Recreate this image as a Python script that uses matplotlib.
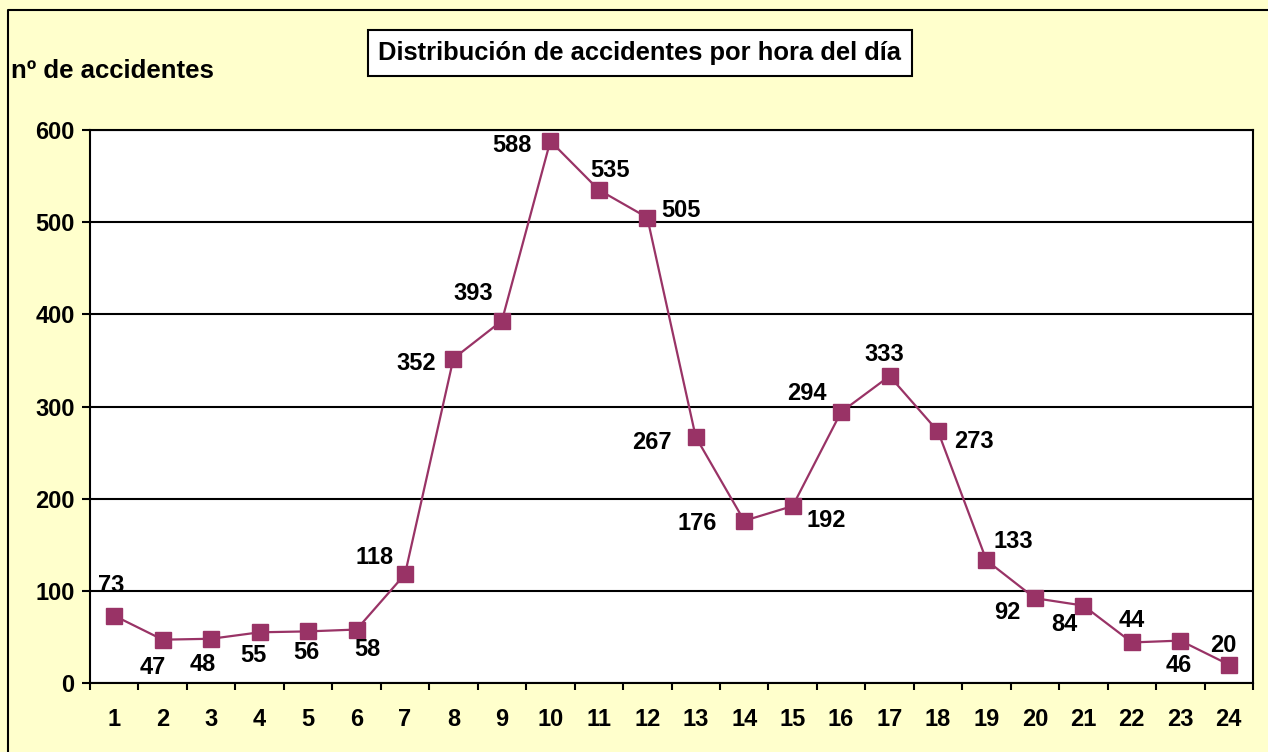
import matplotlib
matplotlib.use('Agg')

import numpy as np
import matplotlib.pyplot as plt
from matplotlib.lines import Line2D

# data
horas = list(range(1, 25))
accidentes = [73, 47, 48, 55, 56, 58, 118, 352, 393, 588, 535, 505,
              267, 176, 192, 294, 333, 273, 133, 92, 84, 44, 46, 20]
yticks = [0, 100, 200, 300, 400, 500, 600]

# label offsets in pixels (dx, dy) relative to each point, dy downwards
offs = [(-3, -30), (-10, 28), (-8, 26), (-6, 23), (-2, 21), (11, 20),
        (-30, -17), (-37, 5), (-29, -27), (-38, 4), (11, -19), (34, -7),
        (-44, 6), (-47, 3), (34, 14), (-34, -19), (-5, -22), (36, 10),
        (27, -19), (-28, 14), (-19, 19), (0, -22), (-2, 25), (-5, -19)]

plt.rcParams['font.family'] = ['Liberation Sans', 'DejaVu Sans']
FS = 17
COL = '#993366'
BG = '#FFFFCC'

fig = plt.figure(figsize=(12.68, 7.52), dpi=100, facecolor=BG)
W, H = 1268.0, 752.0
ax = fig.add_axes([90/W, 1-683/H, (1253-90)/W, (683-130)/H])
ax.set_facecolor('white')

ax.plot(horas, accidentes, color=COL, lw=1.6, marker='s', markersize=12,
        markerfacecolor=COL, markeredgecolor=COL, zorder=3)

px = 72.0/100  # points per pixel
for x, y, (dx, dy) in zip(horas, accidentes, offs):
    ax.annotate(str(y), (x, y), xytext=(dx*px, -dy*px), textcoords='offset points',
                ha='center', va='center', fontsize=FS, fontweight='bold', zorder=4)

ax.set_xlim(0.5, 24.5)
ax.set_ylim(0, 600)
ax.set_yticks(yticks)
ax.yaxis.grid(True, color='black', lw=1.5)
ax.set_axisbelow(True)

ax.set_xticks(horas)
ax.set_xticklabels([str(h) for h in horas])
ax.set_xticks(np.arange(0.5, 25, 1), minor=True)
ax.tick_params(axis='x', which='major', length=0, pad=18, labelsize=FS)
ax.tick_params(axis='x', which='minor', length=5, width=1.5, direction='out')
ax.tick_params(axis='y', length=6, width=1.5, pad=5, labelsize=FS)
for lab in ax.get_xticklabels() + ax.get_yticklabels():
    lab.set_fontweight('bold')
for s in ax.spines.values():
    s.set_linewidth(1.5)
    s.set_color('black')

# outer chart border (left and top visible)
fig.add_artist(Line2D([8/W, 8/W, 1.05], [-0.05, 1-10/H, 1-10/H],
                      transform=fig.transFigure, color='black', lw=1.5))

fig.text(640/W, 1-53/H, 'Distribución de accidentes por hora del día',
         ha='center', va='center', fontsize=18.4, fontweight='bold',
         bbox=dict(boxstyle='square,pad=0.42', facecolor='white',
                   edgecolor='black', lw=1.5))
fig.text(11/W, 1-71/H, 'nº de accidentes', ha='left', va='center',
         fontsize=18.5, fontweight='bold')

plt.savefig('out.png', dpi=100, facecolor=BG)
